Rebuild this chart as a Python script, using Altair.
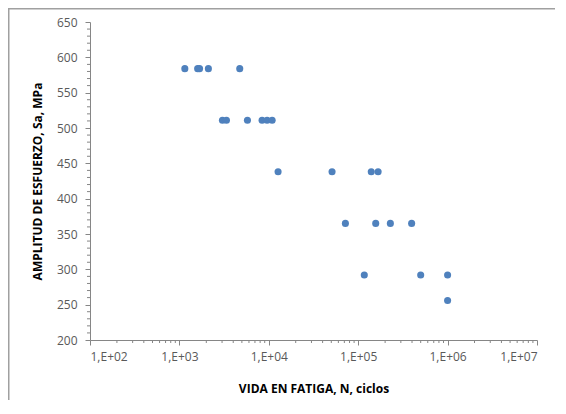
import altair as alt
import pandas as pd

# Fatigue data: life N (cycles) and stress amplitude Sa (MPa)
vida_n = [1150, 1600, 1680, 2110, 4730,
          3030, 3360, 5770, 8410, 9570, 10900,
          12700, 51000, 140000, 167000,
          71900, 157000, 229000, 396000,
          117000, 500000, 1000000,
          1000000]
sa_mpa = [584, 584, 584, 584, 584,
          511, 511, 511, 511, 511, 511,
          438, 438, 438, 438,
          365, 365, 365, 365,
          292, 292, 292,
          256]

y_ticks = [200, 250, 300, 350, 400, 450, 500, 550, 600, 650]
x_ticks = [1e2, 1e3, 1e4, 1e5, 1e6, 1e7]
y_minor = [v for v in range(200, 651, 10) if v % 50 != 0]
x_minor = [k * 10 ** d for d in range(2, 7) for k in range(2, 10)]

W, H = 447, 318
AX = "#868686"
xscale = alt.Scale(type="log", domain=[100, 1e7])
yscale = alt.Scale(domain=[200, 650])
xaxis = alt.Axis(title="VIDA EN FATIGA, N, ciclos", values=x_ticks,
                 labelExpr="'1,E+0' + round(log(datum.value)/LN10)",
                 tickSize=5, labelPadding=6, titlePadding=21)
yaxis = alt.Axis(title="AMPLITUD DE ESFUERZO, Sa, MPa", values=y_ticks,
                 tickSize=5, labelPadding=8, titlePadding=12)

pts = alt.Chart(pd.DataFrame({"N": vida_n, "Sa": sa_mpa})).mark_point(
    filled=True, size=50, color="#4F81BD", opacity=1
).encode(
    x=alt.X("N:Q", scale=xscale, axis=xaxis),
    y=alt.Y("Sa:Q", scale=yscale, axis=yaxis),
)

ymin = alt.Chart(pd.DataFrame({"v": y_minor})).mark_rule(color=AX, strokeWidth=1).encode(
    y=alt.Y("v:Q", scale=yscale, axis=yaxis),
    x=alt.value(-3), x2=alt.value(0),
)
xmin = alt.Chart(pd.DataFrame({"v": x_minor})).mark_rule(color=AX, strokeWidth=1).encode(
    x=alt.X("v:Q", scale=xscale, axis=xaxis),
    y=alt.value(H), y2=alt.value(H + 3),
)

frame = pd.DataFrame({"a": [0]})
left_border = alt.Chart(frame).mark_rule(color="#A0A0A0", strokeWidth=1.5).encode(
    x=alt.value(-81.25), y=alt.value(-14), y2=alt.value(H + 60)
)
top_border = alt.Chart(frame).mark_rule(color="#A0A0A0", strokeWidth=1.5).encode(
    y=alt.value(-13.25), x=alt.value(-82), x2=alt.value(W + 40)
)

chart = alt.layer(pts, ymin, xmin, left_border, top_border).properties(
    width=W, height=H,
    autosize=alt.AutoSizeParams(type="none"),
    padding={"left": 82, "top": 14, "right": 18, "bottom": 60},
    background="white",
).configure(font="Open Sans").configure_view(strokeWidth=0).configure_axis(
    grid=False, domainColor=AX, tickColor=AX, labelColor="#595959",
    labelFontSize=12, titleFontSize=12, titleFontWeight="bold", titleColor="#000000",
    labelFont="Open Sans", titleFont="Open Sans",
)

chart.save("out.html", embed_options={"renderer": "svg", "actions": False})
